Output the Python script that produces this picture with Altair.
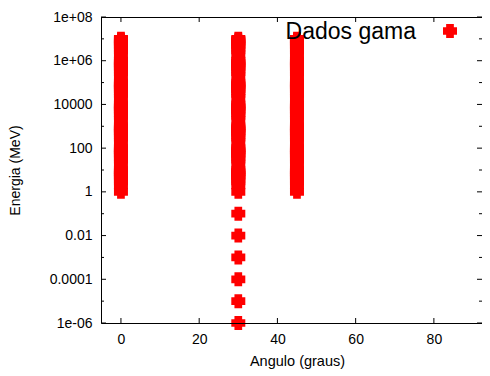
import math
import altair as alt
import pandas as pd

# ---------------- data ----------------
serie = "Dados gama"
angulos = [0, 30, 45]

energia_0 = [1, 2, 3, 4, 5, 6, 7, 8, 9,
             1e1, 2e1, 3e1, 4e1, 5e1, 6e1, 7e1, 8e1, 9e1,
             1e2, 2e2, 3e2, 4e2, 5e2, 6e2, 7e2, 8e2, 9e2,
             1e3, 2e3, 3e3, 4e3, 5e3, 6e3, 7e3, 8e3, 9e3,
             1e4, 2e4, 3e4, 4e4, 5e4, 6e4, 7e4, 8e4, 9e4,
             1e5, 2e5, 3e5, 4e5, 5e5, 6e5, 7e5, 8e5, 9e5,
             1e6, 2e6, 3e6, 4e6, 5e6, 6e6, 7e6, 8e6, 9e6,
             1e7]
energia_30 = [1e-6, 1e-5, 1e-4, 1e-3, 1e-2, 1e-1,
              1, 2, 3, 4, 5, 6, 7, 8, 9,
              1e1, 2e1, 3e1, 4e1, 5e1, 6e1, 7e1, 8e1, 9e1,
              1e2, 2e2, 3e2, 4e2, 5e2, 6e2, 7e2, 8e2, 9e2,
              1e3, 2e3, 3e3, 4e3, 5e3, 6e3, 7e3, 8e3, 9e3,
              1e4, 2e4, 3e4, 4e4, 5e4, 6e4, 7e4, 8e4, 9e4,
              1e5, 2e5, 3e5, 4e5, 5e5, 6e5, 7e5, 8e5, 9e5,
              1e6, 2e6, 3e6, 4e6, 5e6, 6e6, 7e6, 8e6, 9e6,
              1e7]
energia_45 = [1, 2, 3, 4, 5, 6, 7, 8, 9,
              1e1, 2e1, 3e1, 4e1, 5e1, 6e1, 7e1, 8e1, 9e1,
              1e2, 2e2, 3e2, 4e2, 5e2, 6e2, 7e2, 8e2, 9e2,
              1e3, 2e3, 3e3, 4e3, 5e3, 6e3, 7e3, 8e3, 9e3,
              1e4, 2e4, 3e4, 4e4, 5e4, 6e4, 7e4, 8e4, 9e4,
              1e5, 2e5, 3e5, 4e5, 5e5, 6e5, 7e5, 8e5, 9e5,
              1e6, 2e6, 3e6, 4e6, 5e6, 6e6, 7e6, 8e6, 9e6,
              1e7]

x_ticks = [0, 20, 40, 60, 80]
y_major = [1e-6, 1e-4, 1e-2, 1, 1e2, 1e4, 1e6, 1e8]
y_labels = ["1e-06", "0.0001", "0.01", "1", "100", "10000", "1e+06", "1e+08"]
y_minor = [1e-5, 1e-3, 1e-1, 1e1, 1e3, 1e5, 1e7]
x_domain = [-5.1, 92.3]
y_domain = [1e-6, 1e8]

# ---------------- table ----------------
rows = []
for a, es in zip(angulos, [energia_0, energia_30, energia_45]):
    for e in es:
        rows.append({"angulo": a, "energia": e, "serie": serie})
df = pd.DataFrame(rows)

W, H = 381, 306
FONT = "Liberation Sans"
RED = "#ff0000"
MARKER = ("M-0.55,-1L0.55,-1L0.55,-0.55L1,-0.55L1,0.55L0.55,0.55L0.55,1"
          "L-0.55,1L-0.55,0.55L-1,0.55L-1,-0.55L-0.55,-0.55Z")

label_expr = ""
for v, l in zip(y_major, y_labels):
    label_expr += f"abs(log(datum.value)/LN10 - ({math.log10(v)})) < 0.01 ? '{l}' : "
label_expr += "''"

xscale = alt.Scale(domain=x_domain, nice=False, zero=False)
yscale = alt.Scale(type="log", domain=y_domain, nice=False)

xaxis = alt.Axis(values=x_ticks, title="Angulo (graus)", ticks=False, grid=False,
                 labelPadding=9, labelFontSize=14, labelFont=FONT, labelColor="black",
                 domainColor="black", titleFont=FONT, titleFontSize=14.5,
                 titleFontWeight="normal", titleColor="black",
                 titleX=196, titleY=38, titleBaseline="middle", zindex=1)
yaxis = alt.Axis(values=y_major, labelExpr=label_expr, title="Energia (MeV)",
                 ticks=False, grid=False, labelPadding=9, labelFontSize=14,
                 labelFont=FONT, labelColor="black", domainColor="black",
                 titleFont=FONT, titleFontSize=14, titleFontWeight="normal",
                 titleColor="black", titleAngle=270, titleAlign="center",
                 titleBaseline="middle", titleX=-86, titleY=153, zindex=1)

points = alt.Chart(df).mark_point(
    shape=MARKER, filled=True, size=196, opacity=1, strokeWidth=0, color=RED
).encode(
    x=alt.X("angulo:Q", scale=xscale, axis=xaxis),
    y=alt.Y("energia:Q", scale=yscale, axis=yaxis),
)

df_ymaj = pd.DataFrame({"energia": y_major})
df_ymin = pd.DataFrame({"energia": y_minor})
df_x = pd.DataFrame({"angulo": x_ticks})
df_one = pd.DataFrame({"k": [0]})
df_leg = pd.DataFrame({"serie": [serie]})

def yrules(d, x0, x1):
    return alt.Chart(d).mark_rule(color="black", strokeWidth=1).encode(
        y=alt.Y("energia:Q", scale=yscale, axis=yaxis), x=alt.value(x0), x2=alt.value(x1))

def xrules(y0, y1):
    return alt.Chart(df_x).mark_rule(color="black", strokeWidth=1).encode(
        x=alt.X("angulo:Q", scale=xscale, axis=xaxis), y=alt.value(y0), y2=alt.value(y1))

top = alt.Chart(df_one).mark_rule(color="black", strokeWidth=1).encode(
    x=alt.value(0), x2=alt.value(W), y=alt.value(0.5))

# legend (gnuplot style: label left of the symbol)
leg_text = alt.Chart(df_leg).mark_text(
    align="right", baseline="alphabetic", font=FONT, fontSize=23, color="black"
).encode(text="serie:N", x=alt.value(315), y=alt.value(22))
leg_sym = alt.Chart(df_leg).mark_point(
    shape=MARKER, filled=True, size=196, opacity=1, strokeWidth=0, color=RED
).encode(x=alt.value(349), y=alt.value(14))

chart = alt.layer(
    yrules(df_ymaj, 0, 5), yrules(df_ymaj, W - 5, W),
    yrules(df_ymin, 0, 3), yrules(df_ymin, W - 3, W),
    xrules(H, H - 5), xrules(0, 5), top,
    points, leg_text, leg_sym,
).properties(
    width=W, height=H, autosize="none",
    padding={"left": 93, "top": 9, "right": 0, "bottom": 46},
).configure_view(stroke=None).configure(background="white")

chart.save("out.html", embed_options={"renderer": "svg", "actions": False})
